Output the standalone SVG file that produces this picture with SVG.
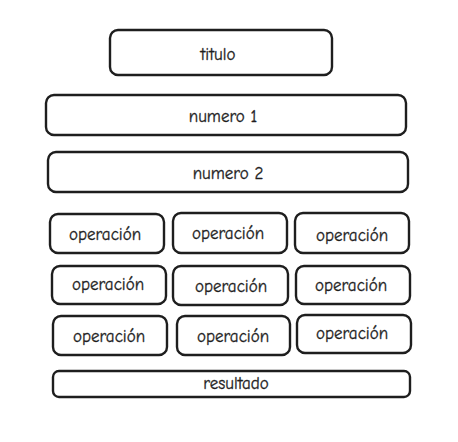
<svg xmlns="http://www.w3.org/2000/svg" width="458" height="442" viewBox="0 0 458 442">
<style>
.b{fill:#ffffff;stroke:#1e1e1e;stroke-width:2.4;stroke-linejoin:round}
.t{font-family:"Comic Neue","Liberation Sans",sans-serif;font-size:17px;fill:#1e1e1e;stroke:#1e1e1e;stroke-width:0.3;text-anchor:middle;dominant-baseline:central}
</style>
<rect width="458" height="442" fill="#ffffff"/>
<g id="titulo"><rect class="b" x="110" y="30" width="222" height="45" rx="8"/><text class="t" x="218" y="54">titulo</text></g>
<g id="numero1"><rect class="b" x="46" y="95" width="360" height="40" rx="8"/><text class="t" x="223" y="116">numero 1</text></g>
<g id="numero2"><rect class="b" x="48" y="152" width="360" height="40" rx="8"/><text class="t" x="228" y="173">numero 2</text></g>
<g id="op11"><rect class="b" x="50" y="214" width="114" height="39" rx="8"/><text class="t" x="105" y="234">operación</text></g>
<g id="op12"><rect class="b" x="173" y="213" width="114" height="40" rx="8"/><text class="t" x="228" y="233">operación</text></g>
<g id="op13"><rect class="b" x="295" y="213" width="114" height="40" rx="8"/><text class="t" x="352" y="235">operación</text></g>
<g id="op21"><rect class="b" x="52" y="266" width="114" height="38" rx="8"/><text class="t" x="108" y="284">operación</text></g>
<g id="op22"><rect class="b" x="173" y="266" width="115" height="39" rx="8"/><text class="t" x="231" y="286">operación</text></g>
<g id="op23"><rect class="b" x="296" y="266" width="114" height="38" rx="8"/><text class="t" x="351" y="285">operación</text></g>
<g id="op31"><rect class="b" x="53" y="316" width="114" height="39" rx="8"/><text class="t" x="109" y="336">operación</text></g>
<g id="op32"><rect class="b" x="177" y="316" width="113" height="39" rx="8"/><text class="t" x="233" y="336">operación</text></g>
<g id="op33"><rect class="b" x="297" y="315" width="114" height="38" rx="8"/><text class="t" x="352" y="333">operación</text></g>
<g id="resultado"><rect class="b" x="53" y="371" width="357" height="26" rx="6"/><text class="t" x="236" y="383">resultado</text></g>
<g id="connectors"></g>
</svg>
